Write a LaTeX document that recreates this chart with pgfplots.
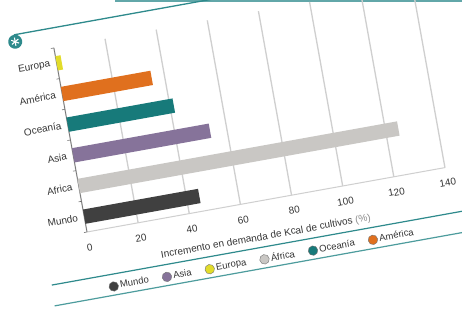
\documentclass[border=0pt]{standalone}
\usepackage{fontspec}
\setmainfont{Liberation Sans}
\usepackage{pgfplots}
\pgfplotsset{compat=1.18}
\definecolor{cMundo}{HTML}{404040}
\definecolor{cAfrica}{HTML}{C9C7C4}
\definecolor{cAsia}{HTML}{86739A}
\definecolor{cOce}{HTML}{177A7A}
\definecolor{cAme}{HTML}{E0701E}
\definecolor{cEur}{HTML}{E2DC2A}
\definecolor{teal2}{HTML}{2E8A8C}
\definecolor{gridc}{HTML}{CFCFCF}
\definecolor{txt}{HTML}{363636}
\begin{document}
\begin{tikzpicture}[x=1pt,y=1pt]
\useasboundingbox (0,0) rectangle (462,310);
\clip (0,0) rectangle (462,310);
\fill[white] (0,0) rectangle (462,310);
\draw[teal2!75, line width=1.8pt] (115,309.1) -- (462,309.1);
\begin{scope}[shift={(87,78)}, rotate=10.2, transform shape]
\begin{axis}[
  at={(0,0)}, anchor=south west, scale only axis,
  width=363.7pt, height=187pt,
  xmin=0, xmax=140, ymin=0, ymax=6,
  axis x line*=bottom, axis y line*=left,
  x axis line style={gridc, line width=1pt, -},
  y axis line style={black!55, line width=0.7pt, -},
  xtick={0,20,...,140},
  xmajorgrids,
  grid style={gridc, line width=1.3pt},
  major tick length=0pt,
  minor tick length=3pt,
  tick align=outside,
  xtick style={draw=none},
  ytick={0.5,1.5,...,5.5},
  yticklabels={Mundo,Africa,Asia,Oceanía,América,Europa},
  minor ytick={0,1,...,6},
  minor y tick style={black!55, line width=0.6pt},
  every tick label/.append style={font=\fontsize{10}{11}\selectfont, text=txt},
  /pgf/number format/assume math mode=true,
  xticklabel style={yshift=-8.5pt},
  yticklabel style={xshift=-3pt},
  xlabel={Incremento en demanda de Kcal de cultivos \textcolor{black!45}{(\%)}},
  xlabel style={at={(axis description cs:0.482,-0.195)}, anchor=center, font=\fontsize{10}{11}\selectfont, text=txt},
  xbar, bar width=14.5pt, bar shift=0pt,
  legend style={at={(axis description cs:0.46,-0.312)}, anchor=center, draw=none, fill=none,
    font=\fontsize{9.5}{10}\selectfont, text=txt, nodes={inner sep=1.5pt},
    /tikz/every even column/.append style={column sep=12pt}},
  legend columns=6,
  legend image code/.code={\path[#1, draw=black!55, line width=0.4pt] (0,0) circle (4.8pt);},
]
\addplot[fill=cMundo, draw=none] coordinates {(45,0.5)};
\addlegendentry{Mundo}
\addplot[fill=cAsia, draw=none] coordinates {(53.5,2.5)};
\addlegendentry{Asia}
\addplot[fill=cEur, draw=none] coordinates {(2,5.5)};
\addlegendentry{Europa}
\addplot[fill=cAfrica, draw=none] coordinates {(125,1.5)};
\addlegendentry{África}
\addplot[fill=cOce, draw=none] coordinates {(41.5,3.5)};
\addlegendentry{Oceanía}
\addplot[fill=cAme, draw=none] coordinates {(35,4.5)};
\addlegendentry{América}
\end{axis}
\draw[teal2, line width=1.3pt] (-37,207) -- (560,207);
\fill[teal2] (-37,200) circle (7);
\foreach \a in {90,30,-30} {\draw[white, line width=1.1pt] (-37,200) ++(\a:4.2) -- ++(\a+180:8.4);}
\draw[teal2, line width=1.2pt] (-44,-46) -- (560,-46);
\draw[teal2!85, line width=1.2pt] (-45,-67) -- (560,-67);
\end{scope}
\end{tikzpicture}
\end{document}
